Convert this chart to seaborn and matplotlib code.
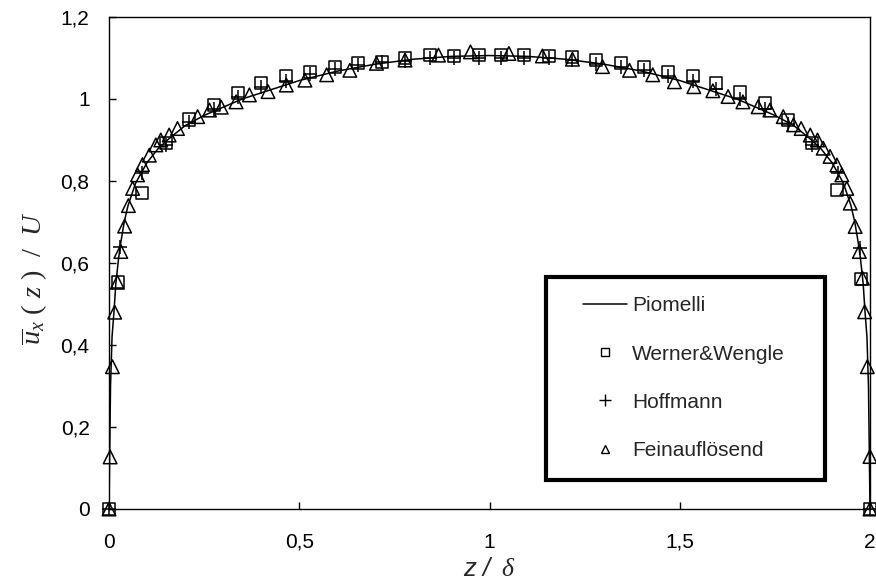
import numpy as np
import pandas as pd
import matplotlib
matplotlib.use("Agg")
import matplotlib.pyplot as plt
from matplotlib.lines import Line2D
from matplotlib.patches import Rectangle
import seaborn as sns

# ---------------- data ----------------
# Piomelli (reference line)
pio_x = [0.0, 0.002, 0.004, 0.008, 0.013, 0.018, 0.025, 0.031, 0.04, 0.05, 0.07, 0.1, 0.13, 0.16,
         0.2, 0.25, 0.3, 0.35, 0.4, 0.5, 0.6, 0.7, 0.8, 0.9, 1.0,
         1.1, 1.2, 1.3, 1.4, 1.5, 1.6, 1.65, 1.7, 1.75, 1.8, 1.84, 1.87, 1.9, 1.93, 1.95,
         1.96, 1.969, 1.975, 1.982, 1.987, 1.992, 1.996, 1.998, 2.0]
pio_y = [0.0, 0.15, 0.30, 0.42, 0.48, 0.55, 0.61, 0.65, 0.70, 0.74, 0.795, 0.845, 0.88, 0.905,
         0.935, 0.96, 0.98, 1.0, 1.015, 1.045, 1.068, 1.085, 1.097, 1.104, 1.106,
         1.104, 1.097, 1.085, 1.068, 1.045, 1.015, 1.0, 0.98, 0.96, 0.935, 0.905, 0.88, 0.845, 0.795, 0.74,
         0.70, 0.65, 0.61, 0.55, 0.48, 0.42, 0.30, 0.15, 0.0]

# Werner & Wengle (squares)
ww_x = [0.0, 0.024, 0.088, 0.15, 0.211, 0.277, 0.339, 0.40, 0.466, 0.528, 0.594, 0.655, 0.717,
        0.778, 0.844, 0.906, 0.972, 1.029, 1.09, 1.157, 1.218, 1.28, 1.346, 1.407, 1.469, 1.535,
        1.596, 1.658, 1.724, 1.785, 1.847, 1.913, 1.977, 2.0]
ww_y = [0.0, 0.553, 0.771, 0.892, 0.95, 0.985, 1.014, 1.038, 1.055, 1.067, 1.079, 1.087, 1.091,
        1.099, 1.107, 1.105, 1.107, 1.107, 1.107, 1.105, 1.102, 1.095, 1.087, 1.079, 1.067, 1.055,
        1.038, 1.016, 0.99, 0.949, 0.892, 0.778, 0.561, 0.0]

# Hoffmann (plus)
hf_x = [0.0, 0.03, 0.088, 0.15, 0.211, 0.277, 0.339, 0.40, 0.466, 0.528, 0.594, 0.655, 0.717,
        0.778, 0.844, 0.906, 0.972, 1.029, 1.09, 1.157, 1.218, 1.28, 1.346, 1.407, 1.469, 1.535,
        1.596, 1.658, 1.724, 1.785, 1.847, 1.917, 1.975, 2.0]
hf_y = [0.0, 0.64, 0.82, 0.888, 0.945, 0.975, 1.005, 1.03, 1.045, 1.062, 1.073, 1.082, 1.09,
        1.093, 1.1, 1.1, 1.1, 1.1, 1.1, 1.1, 1.095, 1.085, 1.078, 1.07, 1.055, 1.045,
        1.025, 1.0, 0.975, 0.94, 0.888, 0.819, 0.636, 0.0]

# Feinauflösend (triangles)
fa_x = [0.0, 0.003, 0.009, 0.015, 0.022, 0.031, 0.041, 0.051, 0.062, 0.075, 0.088, 0.106, 0.123,
        0.136, 0.158, 0.18, 0.233, 0.264, 0.295, 0.334, 0.369, 0.418, 0.466, 0.515, 0.572, 0.633,
        0.703, 0.778, 0.866, 0.95, 1.051, 1.139, 1.218, 1.297, 1.368, 1.429, 1.486, 1.537, 1.587,
        1.627, 1.666, 1.706, 1.737, 1.772, 1.799, 1.819, 1.843, 1.862, 1.877, 1.895, 1.913, 1.926,
        1.939, 1.948, 1.961, 1.972, 1.98, 1.986, 1.993, 2.0, 2.0]
fa_y = [0.0, 0.127, 0.347, 0.48, 0.553, 0.628, 0.69, 0.74, 0.782, 0.815, 0.84, 0.863, 0.888,
        0.9, 0.912, 0.928, 0.957, 0.973, 0.98, 0.993, 1.01, 1.018, 1.034, 1.046, 1.059, 1.07,
        1.087, 1.095, 1.107, 1.115, 1.111, 1.105, 1.097, 1.079, 1.07, 1.059, 1.042, 1.03, 1.02,
        1.006, 0.993, 0.981, 0.973, 0.957, 0.937, 0.928, 0.912, 0.9, 0.88, 0.86, 0.839, 0.815,
        0.782, 0.746, 0.689, 0.628, 0.563, 0.481, 0.347, 0.128, 0.0]

x_ticks = [0, 0.5, 1, 1.5, 2]
x_ticklabels = ["0", "0,5", "1", "1,5", "2"]
y_ticks = [0, 0.2, 0.4, 0.6, 0.8, 1.0, 1.2]
y_ticklabels = ["0", "0,2", "0,4", "0,6", "0,8", "1", "1,2"]
legend_labels = ["Piomelli", "Werner&Wengle", "Hoffmann", "Feinauflösend"]

# ---------------- plot ----------------
sns.set_theme(style="white")
plt.rcParams["font.family"] = ["Liberation Sans", "DejaVu Sans"]
plt.rcParams["mathtext.fontset"] = "custom"
plt.rcParams["mathtext.it"] = "Liberation Serif:italic"
plt.rcParams["mathtext.rm"] = "Liberation Serif"
plt.rcParams["mathtext.sf"] = "Liberation Sans:italic"

fig = plt.figure(figsize=(8.76, 5.84), dpi=100)
ax = fig.add_axes([109 / 876, 1 - 509 / 584, 761 / 876, 492 / 584])

df_p = pd.DataFrame({"x": pio_x, "y": pio_y})
df_w = pd.DataFrame({"x": ww_x, "y": ww_y})
df_h = pd.DataFrame({"x": hf_x, "y": hf_y})
df_f = pd.DataFrame({"x": fa_x, "y": fa_y})

sns.lineplot(data=df_p, x="x", y="y", ax=ax, color="black", linewidth=1.1,
             sort=False, estimator=None, zorder=3)
sns.scatterplot(data=df_w, x="x", y="y", ax=ax, marker="s", s=75,
                facecolor="none", edgecolor="black", linewidth=1.1, zorder=4, clip_on=False)
sns.scatterplot(data=df_h, x="x", y="y", ax=ax, marker="+", s=110,
                color="black", linewidth=1.1, zorder=4, clip_on=False)
sns.scatterplot(data=df_f, x="x", y="y", ax=ax, marker="^", s=95,
                facecolor="none", edgecolor="black", linewidth=1.1, zorder=4, clip_on=False)

ax.set_xlim(0, 2)
ax.set_ylim(0, 1.2)
ax.set_xticks(x_ticks)
ax.set_xticklabels(x_ticklabels)
ax.set_yticks(y_ticks)
ax.set_yticklabels(y_ticklabels)
ax.tick_params(axis="both", direction="in", length=5, width=1, color="black",
               labelsize=15, labelcolor="black",
               bottom=True, left=True, top=False, right=False)
ax.tick_params(axis="x", pad=17)
ax.tick_params(axis="y", pad=14)
for sp in ax.spines.values():
    sp.set_color("black")
    sp.set_linewidth(1.0)

ax.set_xlabel(r"$\mathsf{z\ /}\ \ \delta$", fontsize=18.5)
ax.xaxis.set_label_coords(0.5, (509 - 557) / 492)
ax.set_ylabel(r"$\overline{u}_x\ (\ z\ )\ \ /\ \ U$", fontsize=20.5)
ax.yaxis.set_label_coords((49 - 109) / 761, (509 - 278) / 492)

handles = [
    Line2D([], [], color="black", linewidth=1.1),
    Line2D([], [], linestyle="none", marker="s", markersize=6, markerfacecolor="none",
           markeredgecolor="black", markeredgewidth=1.0),
    Line2D([], [], linestyle="none", marker="+", markersize=8, color="black",
           markeredgewidth=1.0),
    Line2D([], [], linestyle="none", marker="^", markersize=6, markerfacecolor="none",
           markeredgecolor="black", markeredgewidth=1.0),
]
leg = ax.legend(handles, legend_labels, loc="upper left",
                bbox_to_anchor=((575 - 109) / 761, (509 - 288) / 492),
                frameon=False, fontsize=15, handlelength=2.1, handletextpad=0.25,
                labelspacing=1.4, borderaxespad=0)
rect = Rectangle(((546 - 109) / 761, (509 - 480) / 492), (825 - 546) / 761, (480 - 277) / 492,
                 transform=ax.transAxes, fill=False, edgecolor="black", linewidth=3,
                 zorder=5)
ax.add_patch(rect)

fig.savefig("out.png", dpi=100)
